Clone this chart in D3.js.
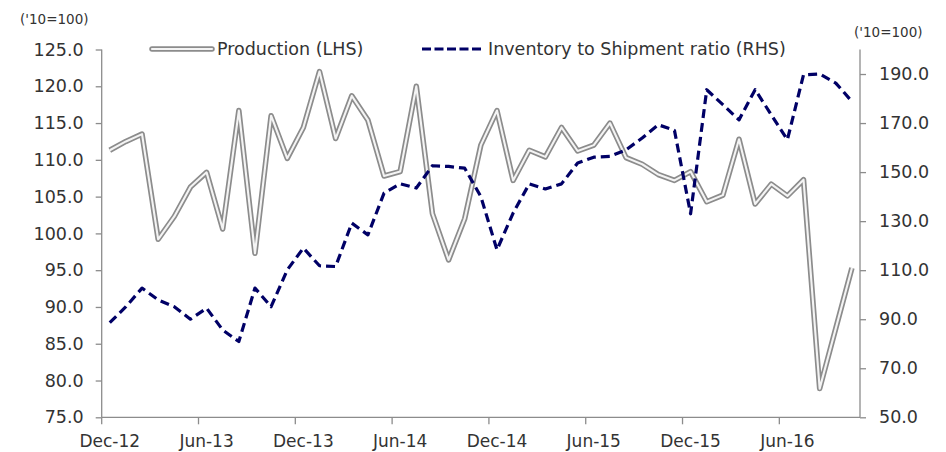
<!DOCTYPE html>
<html>
<head>
<meta charset="utf-8">
<script src="https://cdn.jsdelivr.net/npm/d3@7"></script>
<style>
  body { margin: 0; background: #fff; }
  text { font-family: "DejaVu Sans", Verdana, sans-serif; fill: #333; }
</style>
</head>
<body>
<script>
// monthly categories, Dec-12 .. Oct-16
const months = [
  "Dec-12", "Jan-13", "Feb-13", "Mar-13", "Apr-13", "May-13", "Jun-13", "Jul-13", "Aug-13", "Sep-13", "Oct-13", "Nov-13",
  "Dec-13", "Jan-14", "Feb-14", "Mar-14", "Apr-14", "May-14", "Jun-14", "Jul-14", "Aug-14", "Sep-14", "Oct-14", "Nov-14",
  "Dec-14", "Jan-15", "Feb-15", "Mar-15", "Apr-15", "May-15", "Jun-15", "Jul-15", "Aug-15", "Sep-15", "Oct-15", "Nov-15",
  "Dec-15", "Jan-16", "Feb-16", "Mar-16", "Apr-16", "May-16", "Jun-16", "Jul-16", "Aug-16", "Sep-16", "Oct-16"
];
const xTickLabels = ["Dec-12", "Jun-13", "Dec-13", "Jun-14", "Dec-14", "Jun-15", "Dec-15", "Jun-16"];

const production = [
  111.3, 112.5, 113.5, 99.2, 102.3, 106.3, 108.3, 100.6, 116.7, 97.3, 116.0, 110.2,
  114.4, 122.0, 112.9, 118.7, 115.4, 107.8, 108.4, 120.0, 102.7, 96.4, 102.0, 112.0,
  116.7, 107.2, 111.3, 110.4, 114.4, 111.2, 112.0, 115.0, 110.3, 109.4, 108.0, 107.2,
  108.4, 104.3, 105.2, 112.8, 104.0, 106.7, 105.1, 107.3, 78.9, 87.1, 95.3
];
const inventory = [
  88.6, 95.1, 102.7, 97.9, 95.1, 90.0, 94.5, 85.6, 80.9, 102.7, 95.1, 110.1,
  119.0, 111.8, 111.5, 129.2, 124.4, 141.4, 145.2, 143.5, 152.6, 152.3, 151.6, 140.0,
  118.3, 133.3, 145.2, 143.1, 145.2, 153.7, 156.1, 156.4, 159.1, 163.9, 169.3, 167.0,
  133.0, 183.6, 177.5, 171.3, 183.6, 173.4, 163.2, 189.7, 190.0, 186.3, 178.8
];
const leftTicks = [75, 80, 85, 90, 95, 100, 105, 110, 115, 120, 125];
const rightTicks = [50, 70, 90, 110, 130, 150, 170, 190];

let svg = null;
let x, yL, yR = null; // scales
const W = 946, H = 452;
const plot = {left: 101.7, right: 860, top: 49.5, bottom: 417.3};
const axisColor = "#8c8c8c";

appendSvg("body");
setupScales();
appendXAxis();
appendYAxes();
appendLines();
appendLegend();

function appendSvg(domElement) {
  svg = d3.select(domElement).append("svg")
    .attr("width", W)
    .attr("height", H);
  svg.append("rect").attr("width", W).attr("height", H).attr("fill", "#fff");
}

function setupScales() {
  x = d3.scaleBand().domain(months).range([plot.left, plot.right]);
  yL = d3.scaleLinear().domain([75, 125]).range([plot.bottom, plot.top]);
  yR = d3.scaleLinear().domain([50, 200]).range([plot.bottom, plot.top]);
}

function cx(m) { return x(m) + x.bandwidth() / 2; }

function appendXAxis() {
  // ticks sit on category boundaries, labels on category centres
  const g = svg.append("g").attr("transform", `translate(0, ${plot.bottom})`);
  g.append("line")
    .attr("x1", plot.left).attr("x2", plot.right)
    .attr("stroke", axisColor).attr("stroke-width", 1.3);
  g.selectAll(".xt").data(xTickLabels).enter().append("line")
    .attr("x1", d => x(d)).attr("x2", d => x(d))
    .attr("y1", 0).attr("y2", 7)
    .attr("stroke", axisColor).attr("stroke-width", 1.3);
  g.selectAll(".xl").data(xTickLabels).enter().append("text")
    .attr("x", d => cx(d)).attr("y", 29.5)
    .attr("text-anchor", "middle")
    .style("font-size", "17px")
    .text(d => d);
}

function appendYAxes() {
  // Left axis
  const left = svg.append("g").attr("transform", `translate(${plot.left}, 0)`)
    .call(d3.axisLeft(yL).tickValues(leftTicks).tickFormat(d3.format(".1f")).tickSize(6).tickPadding(12));
  // Right axis
  const right = svg.append("g").attr("transform", `translate(${plot.right}, 0)`)
    .call(d3.axisRight(yR).tickValues(rightTicks).tickFormat(d3.format(".1f")).tickSize(6).tickPadding(13));
  [left, right].forEach(g => {
    g.select(".domain").attr("stroke", axisColor).attr("stroke-width", 1.3)
      .attr("d", `M0,${plot.top}V${plot.bottom}`);
    g.selectAll(".tick line").attr("stroke", axisColor).attr("stroke-width", 1.3);
    g.selectAll(".tick text")
      .attr("fill", "#333")
      .style("font-family", "'DejaVu Sans', Verdana, sans-serif")
      .style("font-size", "17.5px");
  });

  svg.append("text").attr("x", 20).attr("y", 24)
    .style("font-size", "13.5px").text("('10=100)");
  svg.append("text").attr("x", 854).attr("y", 37)
    .style("font-size", "13.5px").text("('10=100)");
}

function appendLines() {
  const prodLine = d3.line()
    .x((d, i) => cx(months[i]))
    .y(d => yL(d));
  const invLine = d3.line()
    .x((d, i) => cx(months[i]))
    .y(d => yR(d));

  // production: double line (grey outline, light core)
  svg.append("path").datum(production)
    .attr("d", prodLine)
    .attr("fill", "none")
    .attr("stroke", "#8c8c8c")
    .attr("stroke-width", 5.5)
    .attr("stroke-linejoin", "round");
  svg.append("path").datum(production)
    .attr("d", prodLine)
    .attr("fill", "none")
    .attr("stroke", "#f4f4f4")
    .attr("stroke-width", 2.1)
    .attr("stroke-linejoin", "round");

  svg.append("path").datum(inventory)
    .attr("d", invLine)
    .attr("fill", "none")
    .attr("stroke", "#000066")
    .attr("stroke-width", 3.2)
    .attr("stroke-dasharray", "9,5")
    .attr("stroke-linejoin", "round");
}

function appendLegend() {
  const ly = 49;
  svg.append("line").attr("x1", 152).attr("x2", 212).attr("y1", ly).attr("y2", ly)
    .attr("stroke", "#8c8c8c").attr("stroke-width", 5.5).attr("stroke-linecap", "round");
  svg.append("line").attr("x1", 152).attr("x2", 212).attr("y1", ly).attr("y2", ly)
    .attr("stroke", "#f4f4f4").attr("stroke-width", 2.1).attr("stroke-linecap", "round");
  svg.append("text").attr("x", 217).attr("y", ly + 6)
    .style("font-size", "17.5px").text("Production (LHS)");

  svg.append("line").attr("x1", 422).attr("x2", 481).attr("y1", ly).attr("y2", ly)
    .attr("stroke", "#000066").attr("stroke-width", 3.2).attr("stroke-dasharray", "9,3.5");
  svg.append("text").attr("x", 488).attr("y", ly + 6)
    .style("font-size", "17.5px").text("Inventory to Shipment ratio (RHS)");
}
</script>
</body>
</html>
